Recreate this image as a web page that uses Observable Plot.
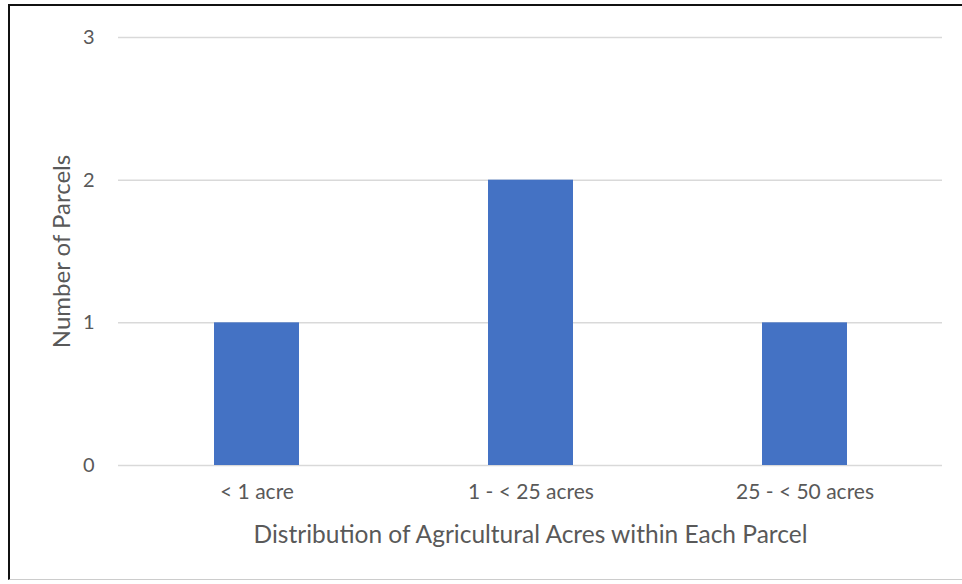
<!DOCTYPE html>
<html>
<head>
<meta charset="utf-8">
<script src="https://cdn.jsdelivr.net/npm/d3@7"></script>
<script src="https://cdn.jsdelivr.net/npm/@observablehq/plot@0.6"></script>
<style>
  html, body { margin: 0; padding: 0; background: #fff; }
  #wrap { position: relative; width: 962px; height: 584px; overflow: hidden; }
  #frame { position: absolute; left: 8px; top: 4px; width: 960px; height: 576px;
           border-top: 2px solid #111; border-left: 2px solid #111; border-bottom: 1px solid #ccc; box-sizing: border-box; pointer-events: none; }
</style>
</head>
<body>
<div id="wrap"><div id="frame"></div></div>
<script>
const categories = ["< 1 acre", "1 - < 25 acres", "25 - < 50 acres"];
const parcels = [1, 2, 1];
const yTicks = [0, 1, 2, 3];
const xTitle = "Distribution of Agricultural Acres within Each Parcel";
const yTitle = "Number of Parcels";

const data = categories.map((c, i) => ({category: c, value: parcels[i]}));

const chart = Plot.plot({
  width: 962,
  height: 584,
  marginLeft: 118,
  marginRight: 20,
  marginTop: 37,
  marginBottom: 119,
  style: {fontFamily: "Lato, 'Open Sans', sans-serif", background: "transparent"},
  x: {domain: categories, paddingInner: 0.69, paddingOuter: 0.345, label: null},
  y: {domain: [0, 3], label: null},
  marks: [
    Plot.ruleY(yTicks, {stroke: "#d9d9d9", strokeWidth: 1.5}),
    Plot.barY(data, {x: "category", y: "value", fill: "#4472c4"}),
    Plot.axisY(yTicks, {tickSize: 0, tickPadding: 24, fontSize: 20, fill: "#595959", tickFormat: "d", label: null}),
    Plot.axisX({tickSize: 0, tickPadding: 19, fontSize: 21, fill: "#595959", label: null}),
    Plot.text([xTitle], {frameAnchor: "bottom", dy: 77, fontSize: 24.5, fill: "#595959"}),
    Plot.text([yTitle], {frameAnchor: "left", textAnchor: "middle", dx: -56, rotate: -90, fontSize: 24, fill: "#595959"})
  ]
});
chart.style.position = "absolute";
chart.style.left = "0";
chart.style.top = "0";
document.getElementById("wrap").appendChild(chart);
</script>
</body>
</html>
